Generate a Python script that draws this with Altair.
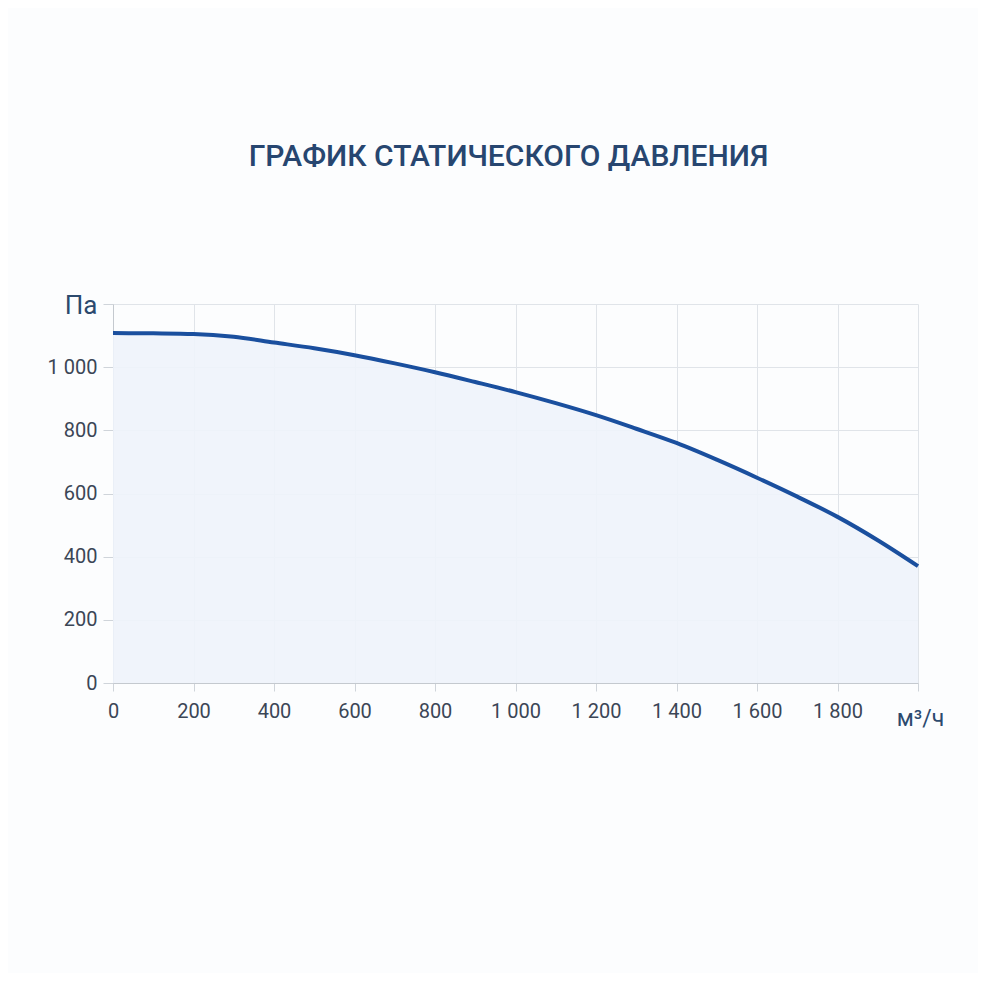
import altair as alt
import pandas as pd

flow = [0, 100, 200, 300, 400, 500, 600, 700, 800, 900, 1000, 1100, 1200, 1300, 1400, 1500, 1600, 1700, 1800, 1900, 2000]
pressure = [1108, 1107, 1105, 1096, 1078, 1060, 1038, 1012, 984, 953, 921, 886, 848, 805, 760, 707, 650, 590, 526, 452, 370]

df = pd.DataFrame({"flow": flow, "pressure": pressure})

label_expr = "replace(format(datum.value, ',d'), ',', ' ')"

x = alt.X("flow:Q", scale=alt.Scale(domain=[0, 2000], nice=False),
          axis=alt.Axis(values=list(range(0, 2001, 200)),
                        labelExpr="datum.value == 2000 ? '' : " + label_expr,
                        labelFlush=False,
                        title="м³/ч", titleAngle=0, titleX=807, titleY=42,
                        titleAlign="center", titleBaseline="alphabetic",
                        titleFontSize=23, titleFontWeight="normal", titleColor="#2c4a6e",
                        labelFontSize=20, labelColor="#3b4656", labelPadding=10,
                        tickSize=8, tickColor="#cfd4da", domainColor="#c4c9cf",
                        gridColor="#e0e4e9"))

y = alt.Y("pressure:Q", scale=alt.Scale(domain=[0, 1200], nice=False),
          axis=alt.Axis(values=list(range(0, 1201, 200)),
                        labelExpr="datum.value == 1200 ? '' : " + label_expr,
                        labelFlush=False,
                        title="Па", titleAngle=0, titleX=-16, titleY=9,
                        titleAlign="right", titleBaseline="alphabetic",
                        titleFontSize=26, titleFontWeight="normal", titleColor="#2c4a6e",
                        labelFontSize=20, labelColor="#3b4656", labelPadding=6,
                        tickSize=10, tickColor="#cfd4da", domainColor="#c4c9cf",
                        gridColor="#e0e4e9"))

area = alt.Chart(df).mark_area(interpolate="monotone", color="#eef3fb", opacity=0.9).encode(x=x, y=y)
line = alt.Chart(df).mark_line(interpolate="monotone", color="#1a4f9e", strokeWidth=4).encode(x="flow:Q", y="pressure:Q")

chart = alt.layer(area, line).properties(
    width=805, height=379,
    title=alt.TitleParams("ГРАФИК СТАТИЧЕСКОГО ДАВЛЕНИЯ", font="Roboto", fontSize=30,
                          fontWeight=500, color="#274670", anchor="middle", offset=120, dx=-7),
    autosize=alt.AutoSizeParams(type="none"),
    padding={"left": 105, "top": 296, "right": 60, "bottom": 290},
    background="#fcfdfe",
).configure_view(stroke=None).configure_axis(titleFont="Roboto", labelFont="Roboto")

chart.save("out.html", embed_options={"renderer": "svg", "actions": False})
